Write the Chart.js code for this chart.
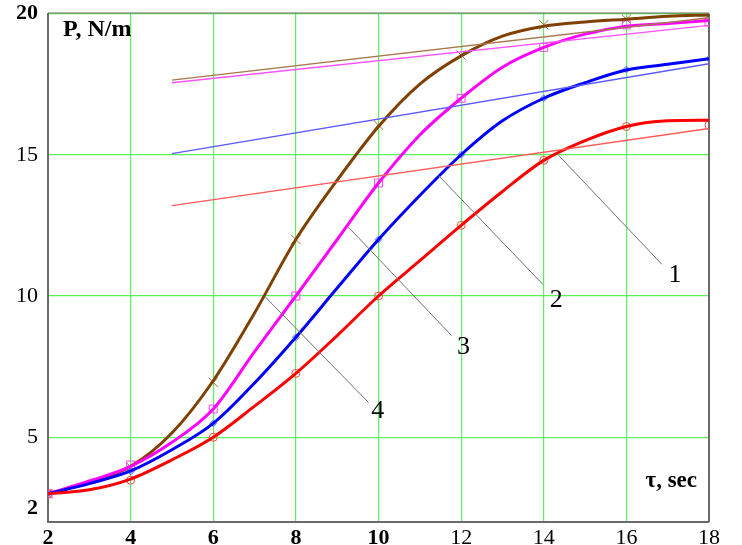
<!DOCTYPE html>
<html>
<head>
<meta charset="utf-8">
<script src="https://cdn.jsdelivr.net/npm/chart.js@4.4.1/dist/chart.umd.min.js"></script>
<style>
  html, body { margin: 0; padding: 0; background: #fff; }
  #wrap { width: 742px; height: 545px; position: relative; }
</style>
</head>
<body>
<div id="wrap"><canvas id="c" width="742" height="545"></canvas></div>
<script>
// ---- data ----
const tau = [2, 3, 4, 5, 6, 7, 8, 9, 10, 11, 12, 13, 14, 15, 16, 17, 18];
const curve1 = [3.0, 3.14, 3.52, 4.2, 5.0, 6.1, 7.26, 8.6, 10.0, 11.25, 12.5, 13.7, 14.8, 15.5, 16.0, 16.2, 16.22];
const curve2 = [3.0, 3.36, 3.81, 4.56, 5.49, 6.92, 8.54, 10.28, 12.0, 13.56, 15.0, 16.2, 17.0, 17.55, 18.0, 18.2, 18.4];
const curve3 = [3.0, 3.45, 3.97, 4.82, 6.0, 8.03, 10.0, 12.0, 14.0, 15.7, 17.0, 18.1, 18.8, 19.27, 19.55, 19.65, 19.75];
const curve4 = [3.0, 3.42, 3.97, 5.15, 7.0, 9.4, 12.0, 14.1, 16.0, 17.5, 18.5, 19.2, 19.55, 19.7, 19.8, 19.9, 19.95];

const markTau = [2, 4, 6, 8, 10, 12, 14, 16, 18];
const marks1 = [3.0, 3.48, 5.0, 7.26, 10.0, 12.5, 14.8, 16.0, 16.05];
const marks2 = [3.0, 3.79, 5.49, 8.54, 12.0, 15.0, 17.0, 18.02, 18.4];
const marks3 = [3.0, 4.02, 6.0, 10.0, 14.0, 17.0, 18.8, 19.6, 19.7];
const marks4 = [3.0, 3.95, 6.94, 12.0, 16.05, 18.53, 19.6, 19.8, 19.95];

const lineTau = [5, 18];
const line1 = [13.2, 15.93];
const line2 = [15.04, 18.22];
const line3 = [17.55, 19.58];
const line4 = [17.64, 19.85];

const xTicks = [2, 4, 6, 8, 10, 12, 14, 16, 18];
const yTicks = [2, 5, 10, 15, 20];

// leader lines: [x1, y1, x2, y2, labelX, labelY, label] in data units
const leaders = [
  [14.36, 14.98, 16.86, 11.12, 17.18, 10.73, '1'],
  [11.45, 14.27, 13.98, 10.41, 14.30, 9.84, '2'],
  [9.27, 12.44, 11.77, 8.60, 12.06, 8.18, '3'],
  [7.25, 9.98, 9.76, 6.23, 9.98, 5.94, '4']
];
const yTitle = 'P, N/m';
const xTitle = 'τ, sec';

// ---- helpers ----
const pts = (xa, ya) => xa.map((v, i) => ({ x: v, y: ya[i] }));
const SERIF = '"Liberation Serif", "DejaVu Serif", serif';

function thin(data, color) {
  return { data: pts(lineTau, data), borderColor: color, borderWidth: 1.4, pointRadius: 0, tension: 0, fill: false };
}
function thick(data, color) {
  return { data: pts(tau, data), borderColor: color, borderWidth: 3, pointRadius: 0, cubicInterpolationMode: 'monotone', fill: false };
}
function marks(data, color, style, r, fillCol) {
  return { data: pts(markTau, data), showLine: false, pointStyle: style, pointRadius: r, pointHoverRadius: r,
           pointBorderColor: color, pointBackgroundColor: fillCol || 'rgba(0,0,0,0)', pointBorderWidth: 1 };
}

const overlay = {
  id: 'overlay',
  beforeDatasetsDraw(chart) {
    const { ctx, chartArea: a } = chart;
    ctx.save();
    ctx.strokeStyle = '#6a6a6a';
    ctx.lineWidth = 2;
    ctx.beginPath();
    ctx.moveTo(a.right, a.top); ctx.lineTo(a.right, a.bottom);
    ctx.stroke();
    ctx.lineWidth = 1;
    ctx.beginPath();
    ctx.moveTo(a.left, a.top - 0.5); ctx.lineTo(a.right, a.top - 0.5);
    ctx.stroke();
    ctx.restore();
  },
  afterDatasetsDraw(chart) {
    const { ctx, chartArea: a, scales: { x, y } } = chart;
    ctx.save();
    ctx.strokeStyle = '#707070';
    ctx.lineWidth = 1;
    ctx.fillStyle = '#000';
    ctx.font = '26px ' + SERIF;
    ctx.textAlign = 'center';
    ctx.textBaseline = 'middle';
    leaders.forEach(l => {
      ctx.beginPath();
      ctx.moveTo(x.getPixelForValue(l[0]), y.getPixelForValue(l[1]));
      ctx.lineTo(x.getPixelForValue(l[2]), y.getPixelForValue(l[3]));
      ctx.stroke();
      ctx.fillText(l[6], x.getPixelForValue(l[4]), y.getPixelForValue(l[5]));
    });
    ctx.font = 'bold 24px ' + SERIF;
    ctx.textAlign = 'left';
    ctx.fillText(yTitle, a.left + 15, a.top + 16);
    ctx.font = 'bold 23px ' + SERIF;
    ctx.textAlign = 'right';
    ctx.fillText(xTitle, a.right - 12, a.bottom - 41);
    // bottom y tick label "2", drawn slightly above the axis like the reference
    ctx.font = 'bold 22px ' + SERIF;
    ctx.fillText(String(yTicks[0]), a.left - 10, y.getPixelForValue(yTicks[0]) - 14);
    ctx.restore();
  }
};

new Chart(document.getElementById('c'), {
  type: 'line',
  data: {
    datasets: [
      thin(line1, '#ff5a5a'),
      thin(line2, '#5a5aff'),
      thin(line3, '#ff50ff'),
      thin(line4, '#a8784c'),
      thick(curve1, '#ff0000'),
      thick(curve2, '#0000ff'),
      thick(curve3, '#ff00ff'),
      thick(curve4, '#804000'),
      marks(marks1, '#ff4a4a', 'circle', 4),
      marks(marks2, '#6a80ff', 'rectRot', 3.5, 'rgba(110,130,255,0.6)'),
      marks(marks3, '#ff40ff', 'rect', 5.6),
      marks(marks4, '#9a6a40', 'crossRot', 6.5)
    ]
  },
  options: {
    responsive: false,
    animation: false,
    events: [],
    layout: { padding: { top: 13.5, right: 33, left: 0, bottom: 0 } },
    plugins: { legend: { display: false }, tooltip: { enabled: false } },
    scales: {
      x: {
        type: 'linear', min: 2, max: 18,
        afterBuildTicks: s => { s.ticks = xTicks.map(v => ({ value: v })); },
        afterFit: s => { s.height = 23; s.paddingLeft = 0; s.paddingRight = 0; },
        grid: { color: '#5cf05c', lineWidth: 1.2, drawTicks: false },
        border: { color: '#6a6a6a', width: 2 },
        ticks: {
          padding: 3, color: '#000',
          font: ctx => ({ family: SERIF, size: 22, weight: ctx.tick && ctx.tick.value <= 10 ? 'bold' : 'normal' })
        }
      },
      y: {
        type: 'linear', min: 2, max: 20,
        afterBuildTicks: s => { s.ticks = yTicks.map(v => ({ value: v })); },
        afterFit: s => { s.width = 48; s.paddingTop = 0; s.paddingBottom = 0; },
        grid: { color: '#5cf05c', lineWidth: 1.2, drawTicks: false },
        border: { color: '#6a6a6a', width: 2 },
        ticks: {
          padding: 10, color: '#000',
          callback: v => (v === yTicks[0] ? '' : String(v)),
          font: ctx => ({ family: SERIF, size: 22, weight: ctx.tick && ctx.tick.value === 20 ? 'bold' : 'normal' })
        }
      }
    }
  },
  plugins: [overlay]
});
</script>
</body>
</html>
